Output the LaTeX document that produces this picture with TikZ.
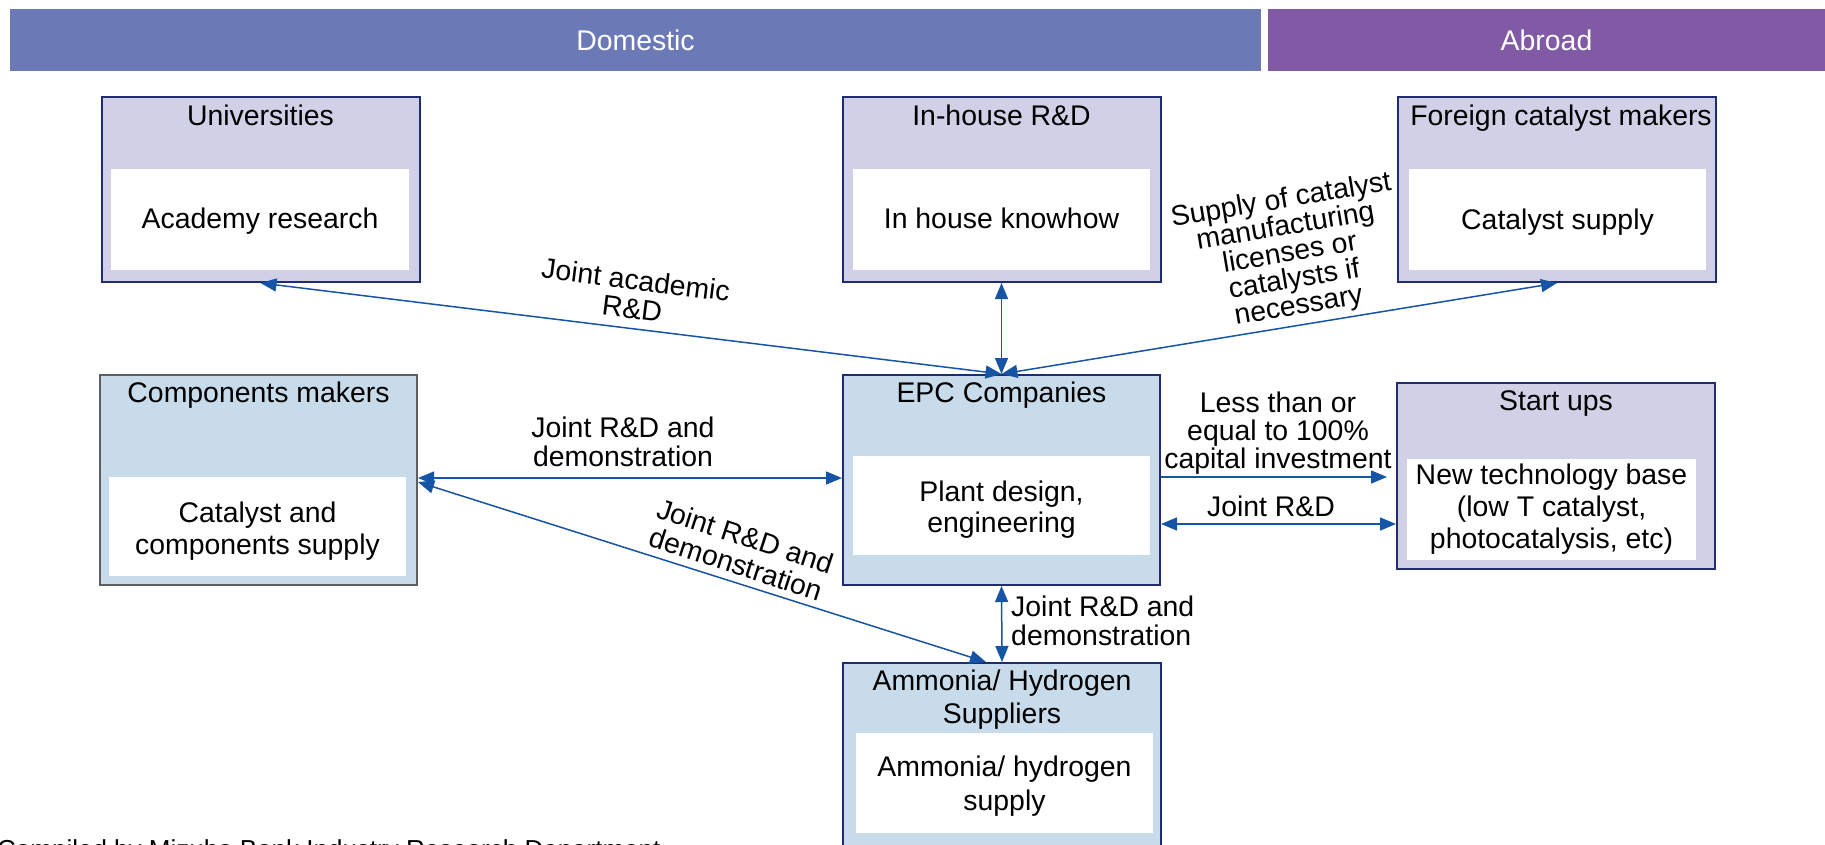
\documentclass[tikz,border=0pt]{standalone}
\usepackage{fontspec}
\setmainfont{Liberation Sans}
\usetikzlibrary{arrows.meta}

\definecolor{dombar}{RGB}{107,122,182}
\definecolor{abrbar}{RGB}{129,90,166}
\definecolor{lav}{RGB}{208,208,230}
\definecolor{lblue}{RGB}{200,219,235}
\definecolor{navy}{RGB}{31,45,110}
\definecolor{greyedge}{RGB}{95,95,95}
\definecolor{linkblue}{RGB}{22,84,166}

\tikzset{
  lab/.style={align=center, inner sep=0pt, font=\fontsize{28.4}{29}\selectfont},
  bar/.style={inner sep=0pt, text=white, font=\fontsize{28.4}{34}\selectfont},
  outerbox/.style={draw=navy, line width=2pt, inner sep=0pt,
    minimum width=318pt, minimum height=185pt},
  lavbox/.style={outerbox, fill=lav},
  bluebox/.style={outerbox, fill=lblue},
  innerbox/.style={fill=white, inner sep=0pt, minimum width=297pt, minimum height=101pt},
  % anchor=base sits on the baseline of the last line
  boxtext/.style={anchor=base, inner sep=0pt, align=center,
    font=\fontsize{28.4}{32}\selectfont},
  link/.style={draw=linkblue, line width=1.5pt},
  tip/.tip={Triangle[length=16pt,width=13pt]},
  both/.style={link, tip-tip},
  onew/.style={link, -tip},
}

\begin{document}
\begin{tikzpicture}[x=1pt, y=-1pt]
\useasboundingbox (0,0) rectangle (1825,844);
\clip (0,0) rectangle (1825,844);

% header bars
\node[bar, fill=dombar, minimum width=1251pt, minimum height=62pt] (dom) at (635.5,40) {Domestic};
\node[bar, fill=abrbar, minimum width=557pt, minimum height=62pt] (abr) at (1546.5,40) {Abroad};

% top row
\node[lavbox] (univ) at (260.5,189.5) {};
\node[innerbox, minimum width=298pt] (univi) at (260,219.5) {};
\node[boxtext] (univt) at (260.5,125) {Universities};
\node[boxtext] (univx) at (260,228.5) {Academy research};

\node[lavbox] (inh) at (1001.5,189.5) {};
\node[innerbox] (inhi) at (1001.5,219.5) {};
\node[boxtext] (inht) at (1001.5,125) {In-house R\&D};
\node[boxtext] (inhx) at (1001.5,228.5) {In house knowhow};

\node[lavbox] (forg) at (1557,189.5) {};
\node[innerbox] (forgi) at (1557.5,219.5) {};
\node[boxtext] (forgt) at (1561,125) {Foreign catalyst makers};
\node[boxtext] (forgx) at (1557.5,229) {Catalyst supply};

% middle row
\node[bluebox, draw=greyedge, minimum width=317pt, minimum height=210pt] (comp) at (258.5,480) {};
\node[innerbox, minimum height=99pt] (compi) at (257.5,526.5) {};
\node[boxtext] (compt) at (258.5,402.5) {Components makers};
\node[boxtext] (compx) at (257.5,554.5) {Catalyst and\\components supply};

\node[bluebox, minimum width=317pt, minimum height=210pt] (epc) at (1001.5,480) {};
\node[innerbox, minimum height=99pt] (epci) at (1001.5,505.5) {};
\node[boxtext] (epct) at (1001.5,402.5) {EPC Companies};
\node[boxtext, font=\fontsize{28.4}{31.7}\selectfont] (epcx) at (1001.5,532.7) {Plant design,\\engineering};

\node[lavbox, minimum height=186pt] (stu) at (1556,476) {};
\node[innerbox, minimum width=289pt] (stui) at (1551.5,509.5) {};
\node[boxtext] (stut) at (1556,410.5) {Start ups};
\node[boxtext, font=\fontsize{28.4}{31.7}\selectfont] (stux) at (1551.5,548.3)
  {New technology base\\(low T catalyst,\\photocatalysis, etc)};

% bottom box
\node[bluebox, minimum height=210pt] (amm) at (1002,768) {};
\node[innerbox, minimum height=100pt] (ammi) at (1004.5,783) {};
\node[boxtext, font=\fontsize{28.4}{33.3}\selectfont] (ammt) at (1002,723.3) {Ammonia/ Hydrogen\\Suppliers};
\node[boxtext, font=\fontsize{28.4}{33.3}\selectfont] (ammx) at (1004.5,810) {Ammonia/ hydrogen\\supply};

% connectors
\draw[both] (univ.south) -- (epc.north);
\draw[both] (inh.south) -- (epc.north);
\draw[both] (forg.south) -- (epc.north);
\draw[both] ([yshift=2pt]comp.east) -- ([yshift=2pt]epc.west);
\draw[both] ([yshift=-2pt]comp.east) -- ([xshift=-16pt]amm.north);
\draw[both] (epc.south) -- (amm.north);
\draw[onew, shorten >=9pt] ([yshift=3pt]epc.east) -- ([yshift=3pt]epc.east -| stu.west);
\draw[both] ([yshift=-44pt]epc.east) -- ([yshift=-44pt]epc.east -| stu.west);

% connector labels
\node[lab, rotate=-7.2] (l1) at (634,294) {Joint academic\\R\&D};
\node[lab, rotate=9.5, font=\fontsize{28.4}{26.8}\selectfont] (l2) at (1290,254)
  {Supply of catalyst\\manufacturing\\licenses or\\catalysts if\\necessary};
\node[lab] (l3) at (623,442) {Joint R\&D and\\demonstration};
\node[lab, rotate=-18] (l4) at (741,550) {Joint R\&D and\\demonstration};
\node[lab, font=\fontsize{28.4}{28}\selectfont] (l5) at (1278,433) {Less than or\\equal to 100\%\\capital investment};
\node[lab] (l6) at (1271,506) {Joint R\&D};
\node[lab, anchor=west, align=left] (l7) at (1011,620.5) {Joint R\&D and\\demonstration};

% source line
\node[anchor=base west, inner sep=0pt, font=\fontsize{26}{30}\selectfont] (src) at (-3,858)
  {Compiled by Mizuho Bank Industry Research Department};
\end{tikzpicture}
\end{document}
